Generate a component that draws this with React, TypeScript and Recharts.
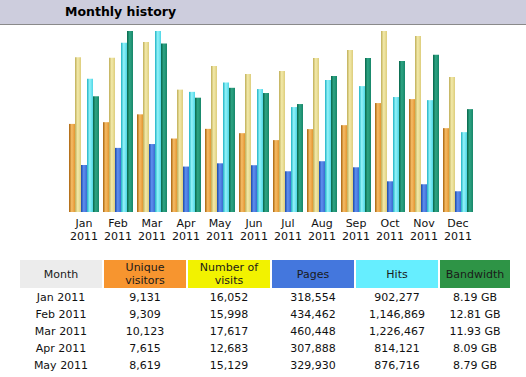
import React from 'react';
import { BarChart, Bar, XAxis, YAxis } from 'recharts';

const months = ['Jan', 'Feb', 'Mar', 'Apr', 'May', 'Jun', 'Jul', 'Aug', 'Sep', 'Oct', 'Nov', 'Dec'];
const year = '2011';
const visitors = [9131, 9309, 10123, 7615, 8619, 8170, 7450, 8590, 9000, 11290, 11700, 8690];
const visits = [16052, 15998, 17617, 12683, 15129, 14300, 14610, 15960, 16790, 18760, 18245, 13990];
const pages = [318554, 434462, 460448, 307888, 329930, 317000, 276000, 344000, 303000, 208000, 188000, 140500];
const hits = [902277, 1146869, 1226467, 814121, 876716, 833000, 711000, 894000, 853000, 779000, 758000, 541000];
const bandwidth = [8.19, 12.81, 11.93, 8.09, 8.79, 8.42, 7.64, 9.62, 10.9, 10.69, 11.13, 7.28];

const headers = [
  { label: ['Month'], bg: '#ececec', width: 82 },
  { label: ['Unique', 'visitors'], bg: '#f7952f', width: 82 },
  { label: ['Number of', 'visits'], bg: '#f2f200', width: 82 },
  { label: ['Pages'], bg: '#4477dd', width: 82 },
  { label: ['Hits'], bg: '#66eeff', width: 82 },
  { label: ['Bandwidth'], bg: '#2e9446', width: 70 },
];

const data = months.map((m, i) => ({
  month: m,
  visitors: visitors[i],
  visits: visits[i],
  pages: pages[i],
  hits: hits[i],
  bandwidth: bandwidth[i],
}));

const fmt = (n: number) => n.toLocaleString('en-US');

// bar gradients: dark left edge, light middle, mid right
const grads = [
  { id: 'gU', c: ['#a8620c', '#f6bc66', '#e39632'] },
  { id: 'gV', c: ['#bfae58', '#f3eaaa', '#ddcd7c'] },
  { id: 'gP', c: ['#1a47a8', '#5f8ff0', '#3b6bd0'] },
  { id: 'gH', c: ['#1fb3c4', '#94f3fa', '#4fd6e6'] },
  { id: 'gB', c: ['#07654a', '#2ea584', '#178669'] },
];

const MonthTick = (props: any) => {
  const { x, payload } = props;
  return (
    <text x={x} y={212} textAnchor="middle" fill="#111" fontSize={11} fontFamily="DejaVu Sans">
      <tspan x={x} dy={15}>{payload.value}</tspan>
      <tspan x={x} dy={13}>{year}</tspan>
    </text>
  );
};

const font = 'DejaVu Sans, Verdana, sans-serif';

export default function App() {
  return (
    <div style={{ position: 'absolute', left: 0, top: 0, width: 526, height: 377, background: '#fff', fontFamily: font, overflow: 'hidden' }}>
      <div style={{ position: 'absolute', left: 0, top: 0, width: 526, height: 24, background: '#cdcddd', borderBottom: '1px solid #8a8a8a' }}>
        <span style={{ position: 'absolute', left: 65, top: 4, fontSize: 12.5, fontWeight: 'bold', color: '#000' }}>Monthly history</span>
      </div>
      <div style={{ position: 'absolute', left: 0, top: 0 }}>
        <BarChart
          width={526}
          height={250}
          data={data}
          margin={{ top: 31, right: 51, left: 67, bottom: 0 }}
          barCategoryGap={2}
          barGap={0}
        >
          <defs>
            {grads.map(g => (
              <linearGradient key={g.id} id={g.id} x1="0" y1="0" x2="1" y2="0">
                <stop offset="0%" stopColor={g.c[0]} />
                <stop offset="45%" stopColor={g.c[1]} />
                <stop offset="100%" stopColor={g.c[2]} />
              </linearGradient>
            ))}
          </defs>
          <XAxis dataKey="month" axisLine={false} tickLine={false} height={38} tick={<MonthTick />} interval={0} />
          <YAxis yAxisId="v" hide domain={[0, 'dataMax']} />
          <YAxis yAxisId="h" hide domain={[0, 'dataMax']} />
          <YAxis yAxisId="b" hide domain={[0, 'dataMax']} />
          <Bar yAxisId="v" dataKey="visitors" fill="url(#gU)" isAnimationActive={false} />
          <Bar yAxisId="v" dataKey="visits" fill="url(#gV)" isAnimationActive={false} />
          <Bar yAxisId="h" dataKey="pages" fill="url(#gP)" isAnimationActive={false} />
          <Bar yAxisId="h" dataKey="hits" fill="url(#gH)" isAnimationActive={false} />
          <Bar yAxisId="b" dataKey="bandwidth" fill="url(#gB)" isAnimationActive={false} />
        </BarChart>
      </div>
      <table style={{ position: 'absolute', left: 18, top: 258, borderCollapse: 'separate', borderSpacing: 2, fontSize: 11, fontFamily: font, color: '#111' }}>
        <thead>
          <tr>
            {headers.map((h, i) => (
              <th key={i} style={{ width: h.width, height: 28, padding: 0, background: h.bg, fontWeight: 'normal', lineHeight: '13px', textAlign: 'center', color: '#1a1a1a' }}>
                {h.label.map((l, j) => <div key={j}>{l}</div>)}
              </th>
            ))}
          </tr>
        </thead>
        <tbody>
          {data.slice(0, 5).map((d, i) => (
            <tr key={i} style={{ height: 15 }}>
              <td style={{ height: 15, padding: 0, lineHeight: '15px', textAlign: 'center' }}>{d.month} {year}</td>
              <td style={{ padding: 0, lineHeight: '15px', textAlign: 'center' }}>{fmt(d.visitors)}</td>
              <td style={{ padding: 0, lineHeight: '15px', textAlign: 'center' }}>{fmt(d.visits)}</td>
              <td style={{ padding: 0, lineHeight: '15px', textAlign: 'center' }}>{fmt(d.pages)}</td>
              <td style={{ padding: 0, lineHeight: '15px', textAlign: 'center' }}>{fmt(d.hits)}</td>
              <td style={{ padding: 0, lineHeight: '15px', textAlign: 'center' }}>{d.bandwidth.toFixed(2)} GB</td>
            </tr>
          ))}
        </tbody>
      </table>
    </div>
  );
}
